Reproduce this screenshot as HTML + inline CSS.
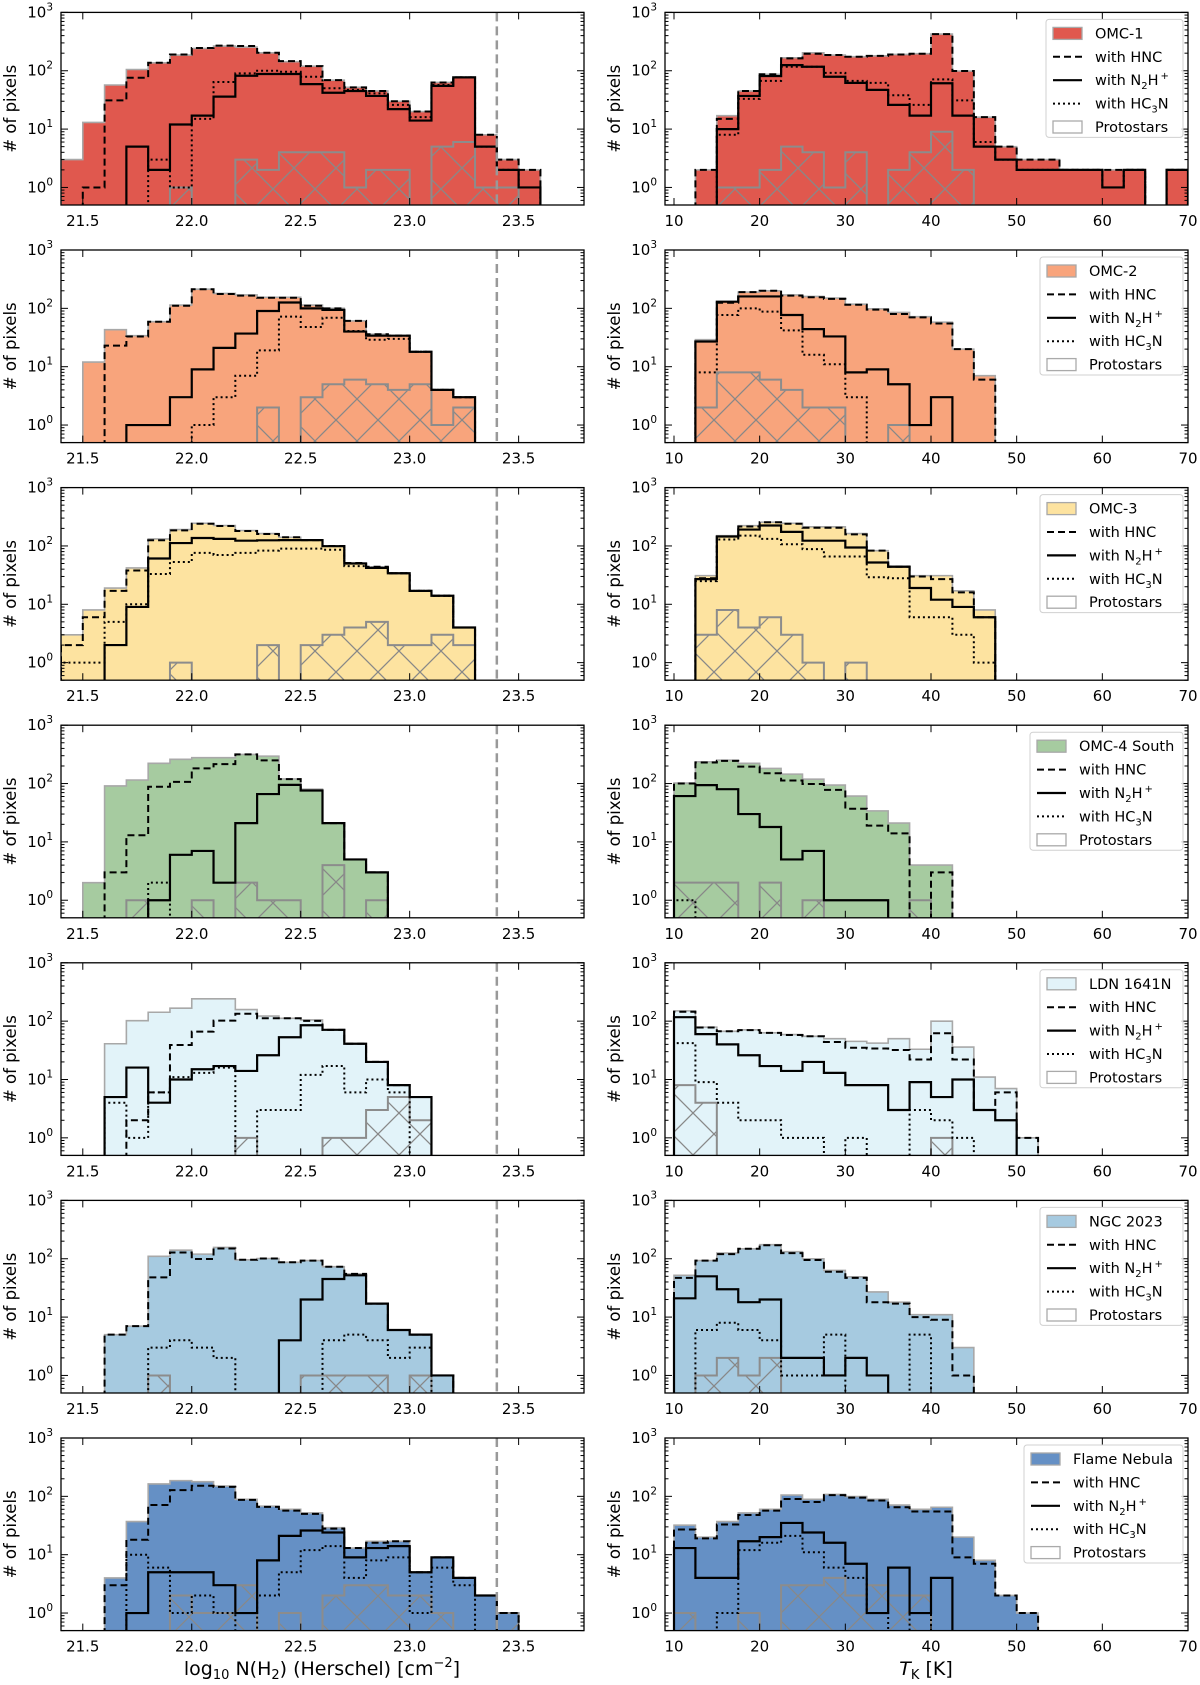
<!DOCTYPE html>
<html><head><meta charset="utf-8"><title>Histograms of column density and kinetic temperature</title>
<style>
html,body{margin:0;padding:0;background:#fff;}
svg{display:block;font-family:"DejaVu Sans","Liberation Sans",sans-serif;}
</style></head>
<body>
<svg id="fig" xmlns="http://www.w3.org/2000/svg" width="1200" height="1685" viewBox="0 0 1200 1685">
<defs>
<pattern id="hatch" patternUnits="userSpaceOnUse" width="42" height="42">
<path d="M0,0L42,42M42,0L0,42" stroke="#888" stroke-width="1.3" fill="none"/>
</pattern>
</defs>
</svg>
<script>
// ---- data: left panels (bins of 0.1 starting at 21.4), right panels (bins of 2.5 K starting at 10 K)
const leftBinStart = 21.4, leftBinWidth = 0.1;
const rightBinStart = 10, rightBinWidth = 2.5;
const regionNames = ["OMC-1","OMC-2","OMC-3","OMC-4 South","LDN 1641N","NGC 2023","Flame Nebula"];
const regionColors = ["#e0584e","#f8a47c","#fde3a0","#a6cba0","#e2f3f9","#a6cae0","#6590c5"];
const leftTicks = [21.5,22.0,22.5,23.0,23.5];
const leftTickLabels = ["21.5","22.0","22.5","23.0","23.5"];
const rightTicks = [10,20,30,40,50,60,70];
const rightTickLabels = ["10","20","30","40","50","60","70"];
const yTicks = [1,10,100,1000];
const yTickExps = ["0","1","2","3"];
const densityLimit = 23.4;

// OMC-1
const omc1NTotal = [3,13,57,105,137,186,241,265,255,203,143,120,69,52,45,30,20,63,77,8,3,2];
const omc1NHnc   = [0,1,31,76,137,190,246,270,265,203,146,120,69,52,45,30,20,63,77,8,3,2];
const omc1NN2h   = [0,0,0,5,2,12,17,36,82,88,88,59,42,45,37,22,14,55,77,5,2,1];
const omc1NHc3n  = [0,0,0,0,3,1,15,64,90,100,96,79,50,47,41,26,16,57,77,5,2,1];
const omc1NProto = [0,0,0,0,0,1,0,0,3,2,4,4,4,1,2,2,0,5,6,1,1,0];
const omc1TTotal = [0,2,17,45,87,167,203,186,174,180,190,196,425,99,16,5,3,3,2,2,2,2,0,2];
const omc1THnc   = [0,2,15,45,87,163,196,186,174,180,190,196,425,99,16,5,3,3,2,2,2,2,0,2];
const omc1TN2h   = [0,0,10,37,81,125,117,79,62,47,26,17,61,17,5,3,2,2,2,2,1,2,0,2];
const omc1THc3n  = [0,0,8,33,67,117,117,92,67,62,38,26,71,31,6,3,2,2,2,2,1,2,0,2];
const omc1TProto = [0,0,1,1,2,5,4,1,4,0,2,4,9,2,0,0,0,0,0,0,0,0,0,0];
// OMC-2
const omc2NTotal = [0,12,43,34,59,114,213,180,170,155,155,114,100,61,36,34,18,4,3];
const omc2NHnc   = [0,0,23,33,59,111,213,176,165,152,152,111,100,61,36,34,18,4,3];
const omc2NN2h   = [0,0,0,1,1,3,9,21,37,90,126,100,94,40,34,34,18,4,3];
const omc2NHc3n  = [0,0,0,0,0,0,1,3,7,19,72,48,69,41,29,30,18,4,3];
const omc2NProto = [0,0,0,0,0,0,0,0,0,2,0,3,5,6,5,4,5,1,2];
const omc2TTotal = [0,29,130,190,200,170,160,150,118,98,85,72,58,20,7];
const omc2THnc   = [0,27,125,190,200,165,155,145,115,95,80,70,55,20,6];
const omc2TN2h   = [0,27,130,160,160,77,44,33,8,9,5,1,3,0,0];
const omc2THc3n  = [0,8,77,100,88,42,16,11,3,0,0,0,0,0,0];
const omc2TProto = [0,2,8,8,6,4,2,2,0,0,1,0,0,0,0];
// OMC-3
const omc3NTotal = [3,8,19,42,132,191,245,224,184,163,141,126,100,51,44,34,17,14,4];
const omc3NHnc   = [2,6,17,38,125,185,240,220,180,160,141,126,100,51,44,34,17,14,4];
const omc3NN2h   = [0,0,2,9,61,112,137,132,123,125,126,126,99,50,42,34,17,14,4];
const omc3NHc3n  = [1,1,5,10,33,53,76,70,76,83,90,90,86,45,42,34,17,14,4];
const omc3NProto = [0,0,0,0,0,1,0,0,0,2,0,2,3,4,5,2,2,3,2];
const omc3TTotal = [0,31,150,223,255,245,213,213,163,83,45,31,31,17,8];
const omc3THnc   = [0,28,145,215,255,240,205,205,158,83,44,30,27,16,6];
const omc3TN2h   = [0,27,145,191,224,174,123,123,94,52,44,19,12,9,6];
const omc3THc3n  = [0,25,129,150,132,107,88,66,66,29,28,6,6,3,1];
const omc3TProto = [0,3,8,4,6,3,1,0,1,0,0,0,0,0,0];
// OMC-4 South
const omc4NTotal = [0,2,91,115,222,260,277,277,316,295,120,80,21,5,3];
const omc4NHnc   = [0,0,3,13,88,107,182,215,316,250,119,76,21,5,3];
const omc4NN2h   = [0,0,0,0,1,6,7,2,21,66,95,76,21,5,3];
const omc4NHc3n  = [0,0,0,0,2,0,0,0,0,0,0,0,0,0,0];
const omc4NProto = [0,0,0,1,0,0,1,0,2,1,1,0,4,0,1];
const omc4TTotal = [102,236,252,222,182,145,119,94,61,34,21,4,4];
const omc4THnc   = [100,229,245,195,150,113,98,78,37,19,14,0,3];
const omc4TN2h   = [61,94,80,30,18,5,7,1,1,1,0,0,0];
const omc4THc3n  = [1,0,0,0,0,0,0,0,0,0,0,0,0];
const omc4TProto = [2,2,2,0,2,0,1,0,0,0,0,1,0];
// LDN 1641N
const ldnNTotal = [0,0,41,102,142,167,241,241,158,122,112,105,71,41,20,8,5];
const ldnNHnc   = [0,0,0,2,6,39,66,102,134,112,112,101,71,41,20,8,5];
const ldnNN2h   = [0,0,5,16,4,10,15,17,14,26,53,85,71,41,20,8,5];
const ldnNHc3n  = [0,0,4,1,6,11,13,16,0,3,3,12,17,6,10,6,0];
const ldnNProto = [0,0,0,0,0,0,0,0,1,0,0,0,1,1,3,5,2];
const ldnTTotal = [150,79,67,71,63,59,55,50,45,42,50,33,100,36,11,7,1];
const ldnTHnc   = [145,78,67,70,63,58,55,44,35,34,32,22,62,22,3,6,1];
const ldnTN2h   = [117,60,40,26,17,14,20,13,8,8,3,9,5,10,3,2,0];
const ldnTHc3n  = [42,9,4,2,2,1,1,0,1,0,0,3,2,1,0,0,0];
const ldnTProto = [8,4,0,0,0,0,0,0,0,0,0,0,1,0,0,0,0];
// NGC 2023
const ngcNTotal = [0,0,5,7,110,140,120,156,96,101,87,93,73,55,17,6,5,1];
const ngcNHnc   = [0,0,5,7,48,128,99,150,96,101,87,93,73,55,17,6,5,1];
const ngcNN2h   = [0,0,0,0,0,0,0,0,0,0,4,20,45,52,17,6,5,1];
const ngcNHc3n  = [0,0,0,0,3,4,3,2,0,0,0,0,4,5,4,2,3,0];
const ngcNProto = [0,0,0,0,1,0,0,0,0,0,0,1,1,1,1,0,1,0];
const ngcTTotal = [52,93,125,148,174,132,100,63,49,27,18,11,11,3];
const ngcTHnc   = [47,93,120,148,170,125,95,60,47,18,17,10,9,1];
const ngcTN2h   = [21,50,30,18,20,2,2,1,2,1,0,0,0,0];
const ngcTHc3n  = [0,6,8,6,4,1,1,5,0,0,0,5,0,0];
const ngcTProto = [0,1,2,1,2,0,0,0,0,0,0,0,0,0];
// Flame Nebula
const flameNTotal = [0,0,4,37,163,186,178,150,89,68,60,52,29,13,17,17,5,9,4,2,1];
const flameNHnc   = [0,0,3,18,71,128,152,145,87,66,57,50,28,13,16,17,5,9,4,2,1];
const flameNN2h   = [0,0,0,1,5,5,5,3,1,8,21,26,24,9,13,14,5,9,4,2,0];
const flameNHc3n  = [0,0,0,10,6,1,2,1,0,2,5,12,14,4,8,9,1,6,3,0,1];
const flameNProto = [0,0,0,0,0,2,1,1,3,0,1,0,2,3,3,2,2,1,0,0,1];
const flameTTotal = [32,20,37,52,60,105,89,108,99,89,71,60,65,20,8,2,1];
const flameTHnc   = [27,19,33,48,57,90,80,105,95,85,65,55,55,9,7,2,1];
const flameTN2h   = [13,4,4,17,20,35,24,16,7,1,6,1,4,0,0,0,0];
const flameTHc3n  = [0,0,1,12,16,21,11,6,4,1,0,1,0,0,0,0,0];
const flameTProto = [1,0,0,1,0,3,3,4,2,3,2,2,0,0,0,0,0];

const leftSeries = [
  [omc1NTotal,omc1NHnc,omc1NN2h,omc1NHc3n,omc1NProto],
  [omc2NTotal,omc2NHnc,omc2NN2h,omc2NHc3n,omc2NProto],
  [omc3NTotal,omc3NHnc,omc3NN2h,omc3NHc3n,omc3NProto],
  [omc4NTotal,omc4NHnc,omc4NN2h,omc4NHc3n,omc4NProto],
  [ldnNTotal,ldnNHnc,ldnNN2h,ldnNHc3n,ldnNProto],
  [ngcNTotal,ngcNHnc,ngcNN2h,ngcNHc3n,ngcNProto],
  [flameNTotal,flameNHnc,flameNN2h,flameNHc3n,flameNProto]
];
const rightSeries = [
  [omc1TTotal,omc1THnc,omc1TN2h,omc1THc3n,omc1TProto],
  [omc2TTotal,omc2THnc,omc2TN2h,omc2THc3n,omc2TProto],
  [omc3TTotal,omc3THnc,omc3TN2h,omc3THc3n,omc3TProto],
  [omc4TTotal,omc4THnc,omc4TN2h,omc4THc3n,omc4TProto],
  [ldnTTotal,ldnTHnc,ldnTN2h,ldnTHc3n,ldnTProto],
  [ngcTTotal,ngcTHnc,ngcTN2h,ngcTHc3n,ngcTProto],
  [flameTTotal,flameTHnc,flameTN2h,flameTHc3n,flameTProto]
];
const legendLefts = [1046,1040,1040,1030,1040,1040,1024];

// ---- layout
const NS = "http://www.w3.org/2000/svg";
const svg = document.getElementById("fig");
const L = {x0:61, x1:584, min:21.4, max:23.8};
const R = {x0:665, x1:1188, min:8.95, max:70};
const rowTop0 = 12.4, rowStep = 237.6, panelH = 192.6;
const yMin = 0.5, yMax = 1000;

function mk(tag, attrs, parent){
  const e = document.createElementNS(NS, tag);
  for (const k in attrs) e.setAttribute(k, attrs[k]);
  (parent||svg).appendChild(e);
  return e;
}
function stepPath(vals, start, width, xs, ys, yb, close){
  let d = "M" + xs(start).toFixed(2) + "," + (yb+5);
  for (let i=0;i<vals.length;i++){
    const y = vals[i] > 0 ? ys(vals[i]) : yb+5;
    d += "L" + xs(start+i*width).toFixed(2) + "," + y.toFixed(2) + "L" + xs(start+(i+1)*width).toFixed(2) + "," + y.toFixed(2);
  }
  d += "L" + xs(start+vals.length*width).toFixed(2) + "," + (yb+5);
  if (close) d += "Z";
  return d;
}

function drawPanel(row, side){
  const ax = side === "left" ? L : R;
  const top = rowTop0 + rowStep*row, bot = top + panelH;
  const xs = v => ax.x0 + (v-ax.min)/(ax.max-ax.min)*(ax.x1-ax.x0);
  const ys = v => bot - (Math.log10(v)-Math.log10(yMin))/(Math.log10(yMax)-Math.log10(yMin))*panelH;
  const series = side === "left" ? leftSeries[row] : rightSeries[row];
  const start = side === "left" ? leftBinStart : rightBinStart;
  const width = side === "left" ? leftBinWidth : rightBinWidth;
  const slug = regionNames[row].toLowerCase().replace(/[^a-z0-9]+/g,"-");
  const g = mk("g", {});
  
  
  const cid = "clip-" + side + "-" + row;
  const cp = mk("clipPath", {id:cid}, g);
  mk("rect", {x:ax.x0, y:top, width:ax.x1-ax.x0, height:panelH}, cp);
  const plot = mk("g", {"clip-path":"url(#"+cid+")"}, g);

  const fill = mk("path", {d:stepPath(series[0],start,width,xs,ys,bot,true), fill:regionColors[row], stroke:"#a8a8a8", "stroke-width":1.6}, plot);
  
  
  const proto = mk("path", {d:stepPath(series[4],start,width,xs,ys,bot,true), fill:"url(#hatch)", stroke:"#8c8c8c", "stroke-width":2}, plot);
  
  
  const hnc = mk("path", {d:stepPath(series[1],start,width,xs,ys,bot,false), fill:"none", stroke:"#000", "stroke-width":2, "stroke-dasharray":"7,4"}, plot);
  
  
  const n2h = mk("path", {d:stepPath(series[2],start,width,xs,ys,bot,false), fill:"none", stroke:"#000", "stroke-width":2.2}, plot);
  
  
  const hc3n = mk("path", {d:stepPath(series[3],start,width,xs,ys,bot,false), fill:"none", stroke:"#000", "stroke-width":2, "stroke-dasharray":"2,3"}, plot);
  
  

  if (side === "left"){
    const vl = mk("line", {x1:xs(densityLimit), x2:xs(densityLimit), y1:top, y2:bot, stroke:"#999", "stroke-width":2.5, "stroke-dasharray":"9,5"}, plot);
    
    
  }

  const frame = mk("rect", {x:ax.x0, y:top, width:ax.x1-ax.x0, height:panelH, fill:"none", stroke:"#000", "stroke-width":1.3}, g);
  
  

  const tg = mk("g", {stroke:"#000", "stroke-width":1}, g);
  for (let d=-1; d<3; d++){
    for (let m=1; m<10; m++){
      const v = m*Math.pow(10,d);
      if (v < yMin || v > yMax) continue;
      const y = ys(v), len = m===1 ? 7 : 3.5;
      mk("line", {x1:ax.x0, x2:ax.x0+len, y1:y, y2:y}, tg);
      mk("line", {x1:ax.x1, x2:ax.x1-len, y1:y, y2:y}, tg);
    }
  }
  mk("line", {x1:ax.x0, x2:ax.x0+7, y1:ys(1000), y2:ys(1000)}, tg);
  mk("line", {x1:ax.x1, x2:ax.x1-7, y1:ys(1000), y2:ys(1000)}, tg);
  yTicks.forEach((v,i)=>{
    const t = mk("text", {x:ax.x0-8, y:ys(v)+5, "text-anchor":"end", "font-size":15, fill:"#000"}, g);
    
    
    t.textContent = "10";
    const s = mk("tspan", {"font-size":10.5, dy:-7}, t);
    s.textContent = yTickExps[i];
  });
  const ticks = side==="left" ? leftTicks : rightTicks;
  const labels = side==="left" ? leftTickLabels : rightTickLabels;
  ticks.forEach((v,i)=>{
    const x = xs(v);
    mk("line", {x1:x, x2:x, y1:bot, y2:bot-7}, tg);
    mk("line", {x1:x, x2:x, y1:top, y2:top+7}, tg);
    const t = mk("text", {x:x, y:bot+21, "text-anchor":"middle", "font-size":15, fill:"#000"}, g);
    
    
    t.textContent = labels[i];
  });
  const yt = mk("text", {x:0, y:0, transform:"translate(" + (ax.x0-45) + "," + (top+panelH/2) + ") rotate(-90)", "text-anchor":"middle", "font-size":16.5, fill:"#000"}, g);
  
  
  yt.textContent = "# of pixels";

  if (side === "right"){
    const lx = legendLefts[row], lw = 1183 - lx, ly = top + 7;
    const lg = mk("g", {}, g);
    
    
    mk("rect", {x:lx, y:ly, width:lw, height:118, rx:3, fill:"#fff", "fill-opacity":0.85, stroke:"#d0d0d0", "stroke-width":1}, lg);
    const entries = ["region","hnc","n2h","hc3n","proto"];
    entries.forEach((k,i)=>{
      const cy = top + 21 + 23.4*i;
      const e = mk("g", {}, lg);
      
      
      if (k==="region") mk("rect", {x:lx+7, y:cy-6, width:29, height:12, fill:regionColors[row], stroke:"#a8a8a8", "stroke-width":1.3}, e);
      if (k==="hnc") mk("line", {x1:lx+7, x2:lx+36, y1:cy, y2:cy, stroke:"#000", "stroke-width":2, "stroke-dasharray":"7,4"}, e);
      if (k==="n2h") mk("line", {x1:lx+7, x2:lx+36, y1:cy, y2:cy, stroke:"#000", "stroke-width":2.2}, e);
      if (k==="hc3n") mk("line", {x1:lx+7, x2:lx+36, y1:cy, y2:cy, stroke:"#000", "stroke-width":2, "stroke-dasharray":"2,3"}, e);
      if (k==="proto") mk("rect", {x:lx+7, y:cy-6, width:29, height:12, fill:"#fff", stroke:"#aaa", "stroke-width":1.3}, e);
      const t = mk("text", {x:lx+49, y:cy+5, "font-size":14.5, fill:"#000"}, e);
      if (k==="region") t.textContent = regionNames[row];
      if (k==="hnc") t.textContent = "with HNC";
      if (k==="n2h"){ t.textContent = "with N"; const a = mk("tspan",{"font-size":10, dy:4},t); a.textContent="2"; const b = mk("tspan",{dy:-4},t); b.textContent="H"; const c = mk("tspan",{"font-size":10, dy:-6, dx:2},t); c.textContent="+"; }
      if (k==="hc3n"){ t.textContent = "with HC"; const a = mk("tspan",{"font-size":10, dy:4},t); a.textContent="3"; const b = mk("tspan",{dy:-4},t); b.textContent="N"; }
      if (k==="proto") t.textContent = "Protostars";
    });
  }
}
for (let r=0;r<7;r++){ drawPanel(r,"left"); drawPanel(r,"right"); }

const xl = mk("text", {x:322, y:1675, "text-anchor":"middle", "font-size":19, fill:"#000"});


xl.textContent = "log";
{ const a = mk("tspan",{"font-size":13, dy:4},xl); a.textContent="10"; const b = mk("tspan",{dy:-4},xl); b.textContent=" N(H"; const c = mk("tspan",{"font-size":13, dy:4},xl); c.textContent="2"; const d = mk("tspan",{dy:-4},xl); d.textContent=") (Herschel) [cm"; const e = mk("tspan",{"font-size":13, dy:-8},xl); e.textContent="\u22122"; const f = mk("tspan",{dy:8},xl); f.textContent="]"; }
const xr = mk("text", {x:926, y:1675, "text-anchor":"middle", "font-size":19, fill:"#000"});


{ const a = mk("tspan",{"font-style":"italic"},xr); a.textContent="T"; const b = mk("tspan",{"font-size":13, dy:4},xr); b.textContent="K"; const c = mk("tspan",{dy:-4},xr); c.textContent=" [K]"; }
</script>
</body></html>
